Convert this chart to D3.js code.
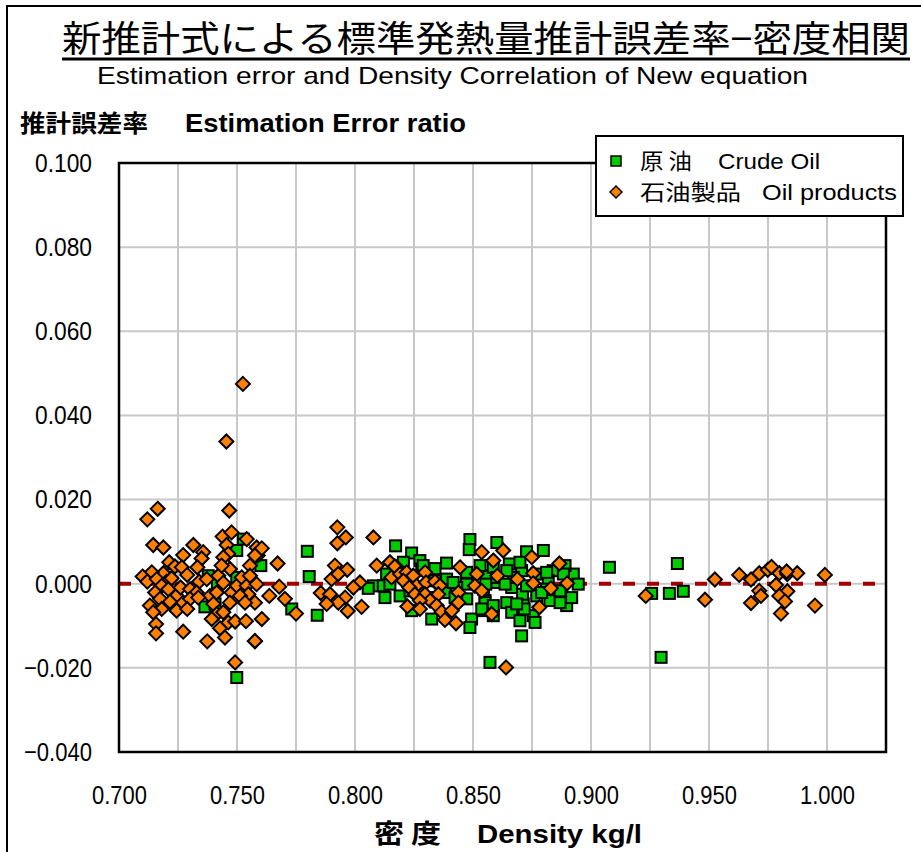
<!DOCTYPE html>
<html lang="ja">
<head>
<meta charset="UTF-8">
<title>新推計式による標準発熱量推計誤差率−密度相関</title>
<script src="https://cdn.jsdelivr.net/npm/d3@7"></script>
<style>
  body { margin: 0; background: #fff; }
  text { font-family: "Liberation Sans Narrow", "Liberation Sans", "Noto Sans CJK JP", sans-serif; fill: #000; }
  .jp { font-family: "Noto Sans CJK JP", sans-serif; }
  .grid line { stroke: #c8c8c8; stroke-width: 2px; }
  .axis text { font-size: 26px; }
</style>
</head>
<body>
<div id="chart"></div>
<script>
// [density kg/l, estimation error ratio]
const crudeOil = [
  [0.7527,0.0106],[0.7499,0.0079],[0.7378,0.0019],[0.7417,0.0002],[0.7364,-0.0055],[0.7407,-0.0048],[0.7499,-0.0223],[0.7499,0.0015],[0.7601,0.0043],
  [0.7798,0.0077],[0.7806,0.0017],[0.7732,-0.0060],[0.7840,-0.0075],
  [0.8172,0.0090],[0.8078,-0.0005],[0.8127,-0.0033],[0.8134,0.0023],[0.8056,-0.0011],[0.8120,-0.0005],
  [0.8240,0.0073],[0.8487,0.0105],[0.8484,0.0081],[0.8388,0.0049],[0.8275,0.0055],[0.8339,0.0036],[0.8191,-0.0029],[0.8240,-0.0064],[0.8325,-0.0084],
  [0.8388,0.0011],[0.8473,0.0007],[0.8473,-0.0036],[0.8494,-0.0084],[0.8487,-0.0104],[0.8544,-0.0013],[0.8551,-0.0040],[0.8572,-0.0187],
  [0.8601,0.0098],[0.8727,0.0076],[0.8798,0.0079],[0.8654,0.0047],[0.8706,0.0031],[0.8840,0.0031],[0.8925,0.0023],[0.8946,-0.0001],[0.8876,-0.0021],
  [0.8826,-0.0040],[0.8770,-0.0029],[0.8713,-0.0048],[0.8643,-0.0045],[0.8664,-0.0009],[0.8601,0.0003],[0.8551,-0.0045],[0.8755,-0.0076],[0.8763,-0.0092],
  [0.8897,-0.0052],[0.8918,-0.0033],[0.8706,-0.0124],[0.8473,-0.0001],[0.8586,-0.0076],[0.8664,-0.0068],[0.8558,0.0019],
  [0.9078,0.0039],[0.9366,0.0048],[0.9257,-0.0023],[0.9332,-0.0023],[0.9391,-0.0018],[0.9297,-0.0175],
  [0.8233,-0.0017],[0.8283,0.0035],[0.8554,-0.0001],[0.8710,-0.0025],[0.8717,-0.0060],[0.8890,0.0043],[0.8339,0.0007],[0.8275,-0.0009],[0.8325,-0.0033],
  [0.8191,0.0039],[0.8148,-0.0001],[0.8431,-0.0009],[0.8431,-0.0033],[0.8586,0.0039],[0.8601,0.0015],[0.8671,0.0015],[0.8770,0.0023],[0.8819,0.0007],
  [0.8869,-0.0017],[0.8812,-0.0013],[0.8699,-0.0088],[0.8544,-0.0064],
  [0.8473,0.0027],[0.8530,0.0043],[0.8643,0.0031],[0.8699,0.0051],[0.8812,0.0027],[0.8883,0.0023],[0.8869,-0.0045],[0.8791,-0.0021],[0.8586,-0.0052],
  [0.8685,-0.0048],[0.8537,-0.0060],[0.8727,-0.0005],[0.8636,-0.0001],
  [0.8289,0.0043],[0.8205,0.0051],[0.8381,-0.0021],[0.8424,-0.0033],[0.8416,0.0003]
];

const oilProducts = [
  [0.7164,0.0178],[0.7120,0.0153],[0.7467,0.0174],[0.7145,0.0092],[0.7188,0.0086],[0.7315,0.0092],[0.7272,0.0068],[0.7357,0.0075],[0.7350,0.0060],
  [0.7439,0.0112],[0.7477,0.0122],[0.7541,0.0106],[0.7456,0.0092],[0.7463,0.0071],[0.7442,0.0063],[0.7213,0.0051],[0.7237,0.0041],[0.7266,0.0039],
  [0.7332,0.0039],[0.7289,0.0021],[0.7188,0.0025],[0.7139,0.0027],[0.7100,0.0017],[0.7120,0.0005],[0.7160,0.0011],[0.7202,0.0005],[0.7223,0.0013],
  [0.7181,-0.0005],[0.7153,-0.0021],[0.7131,-0.0052],[0.7174,-0.0036],[0.7209,-0.0013],[0.7244,-0.0029],[0.7261,-0.0009],[0.7301,-0.0013],[0.7340,0.0005],
  [0.7329,-0.0021],[0.7272,-0.0045],[0.7301,-0.0036],[0.7244,-0.0064],[0.7289,-0.0060],[0.7181,-0.0060],[0.7145,-0.0068],[0.7157,-0.0096],[0.7157,-0.0118],
  [0.7272,-0.0114],[0.7216,-0.0043],[0.7386,-0.0029],[0.7400,-0.0048],[0.7414,-0.0072],[0.7393,-0.0084],[0.7428,-0.0106],[0.7449,-0.0128],[0.7374,-0.0137],
  [0.7463,-0.0092],[0.7492,-0.0090],[0.7538,-0.0089],[0.7576,-0.0137],[0.7492,-0.0187],[0.7421,0.0019],[0.7442,0.0002],[0.7414,-0.0021],[0.7477,-0.0021],
  [0.7499,-0.0005],[0.7520,0.0015],[0.7541,-0.0005],[0.7555,0.0043],[0.7548,-0.0025],[0.7576,-0.0045],[0.7513,-0.0029],[0.7470,-0.0045],[0.7534,-0.0045],
  [0.7555,0.0019],[0.7583,-0.0001],[0.7588,0.0067],[0.7583,0.0086],[0.7470,0.0035],[0.7435,0.0043],[0.7372,0.0011],[0.7336,-0.0033],[0.7442,-0.0068],
  [0.7525,0.0475],[0.7455,0.0338],
  [0.7605,0.0084],[0.7576,0.0067],[0.7672,0.0048],[0.7679,-0.0007],[0.7703,-0.0036],[0.7637,-0.0029],[0.7750,-0.0071],[0.7605,-0.0084],[0.7576,-0.0136],
  [0.7925,0.0134],[0.7961,0.0110],[0.7925,0.0096],[0.8078,0.0110],[0.7915,0.0043],[0.7967,0.0033],[0.7901,0.0011],[0.7929,0.0023],[0.8021,0.0003],
  [0.7993,-0.0009],[0.7855,-0.0022],[0.7894,-0.0025],[0.7958,-0.0033],[0.7929,-0.0045],[0.7880,-0.0048],[0.7969,-0.0065],[0.8028,-0.0055],
  [0.8092,0.0043],[0.8148,0.0051],[0.8177,0.0039],[0.8155,0.0015],
  [0.8169,0.0041],[0.8191,0.0023],[0.8219,0.0027],[0.8247,0.0019],[0.8297,0.0027],[0.8205,0.0007],[0.8261,-0.0005],[0.8301,0.0003],[0.8339,0.0005],
  [0.8360,-0.0005],[0.8230,-0.0009],[0.8254,-0.0025],[0.8297,-0.0025],[0.8353,-0.0025],[0.8318,-0.0040],[0.8275,-0.0040],[0.8222,-0.0054],[0.8275,-0.0060],
  [0.8346,-0.0052],[0.8367,-0.0067],[0.8410,-0.0064],[0.8381,-0.0086],[0.8428,-0.0094],[0.8438,-0.0021],[0.8438,-0.0045],[0.8445,0.0039],[0.8537,0.0075],
  [0.8516,0.0023],[0.8508,-0.0005],[0.8537,-0.0017],
  [0.8586,0.0055],[0.8628,0.0079],[0.8603,0.0019],[0.8688,0.0011],[0.8749,0.0063],[0.8755,0.0025],[0.8755,0.0001],[0.8866,0.0048],[0.8830,-0.0011],
  [0.8899,0.0001],[0.8781,-0.0056],[0.8579,-0.0072],[0.8640,-0.0199],
  [0.9232,-0.0029],[0.9525,0.0010],[0.9483,-0.0038],[0.9628,0.0021],[0.9678,0.0010],[0.9713,0.0025],[0.9749,0.0033],[0.9765,0.0040],[0.9798,0.0025],
  [0.9832,0.0023],[0.9874,0.0025],[0.9991,0.0021],[0.9784,-0.0003],[0.9713,-0.0017],[0.9720,-0.0029],[0.9832,-0.0018],[0.9798,-0.0029],[0.9822,-0.0042],
  [0.9678,-0.0046],[0.9805,-0.0071],[0.9949,-0.0052],[0.9829,0.0029]
];

const xTicks = [0.70, 0.75, 0.80, 0.85, 0.90, 0.95, 1.00];
const yTicks = [0.10, 0.08, 0.06, 0.04, 0.02, 0, -0.02, -0.04];
const seriesJp = ["原 油", "石油製品"];
const seriesEn = ["Crude Oil", "Oil products"];

const width = 921, height = 852;
const plot = {left: 119, right: 886, top: 163, bottom: 752};

const svg = d3.select("#chart").append("svg")
  .attr("width", width)
  .attr("height", height);

// outer frame (cut off at right and bottom)
svg.append("rect")
  .attr("x", 7).attr("y", 6)
  .attr("width", 1000).attr("height", 1000)
  .attr("fill", "none").attr("stroke", "#000").attr("stroke-width", 2);

const x = d3.scaleLinear().domain([0.7, 1.025]).range([plot.left, plot.right]);
const y = d3.scaleLinear().domain([-0.04, 0.1]).range([plot.bottom, plot.top]);

// grid
const grid = svg.append("g").attr("class", "grid");
grid.selectAll(".gx")
  .data(d3.range(1, 13).map(i => 0.7 + i * 0.025))
  .join("line")
  .attr("x1", d => x(d)).attr("x2", d => x(d))
  .attr("y1", plot.top).attr("y2", plot.bottom);
grid.selectAll(".gy")
  .data(yTicks.slice(1, -1))
  .join("line")
  .attr("x1", plot.left).attr("x2", plot.right)
  .attr("y1", d => y(d)).attr("y2", d => y(d));

// axes
const fmt = d3.format(".3f");
const yAxis = svg.append("g")
  .attr("class", "axis")
  .attr("transform", `translate(${plot.left},0)`)
  .call(d3.axisLeft(y).tickValues(yTicks).tickFormat(fmt).tickSize(0).tickPadding(27));
yAxis.select(".domain").remove();
yAxis.selectAll("text")
  .attr("fill", "#000")
  .attr("font-size", 26)
  .attr("textLength", d => d < 0 ? 68 : 57)
  .attr("lengthAdjust", "spacingAndGlyphs");

const xAxis = svg.append("g")
  .attr("class", "axis")
  .attr("transform", `translate(0,${plot.bottom})`)
  .call(d3.axisBottom(x).tickValues(xTicks).tickFormat(fmt).tickSize(0).tickPadding(34));
xAxis.select(".domain").remove();
xAxis.selectAll("text")
  .attr("fill", "#000")
  .attr("font-size", 26)
  .attr("textLength", 55)
  .attr("lengthAdjust", "spacingAndGlyphs");

// zero reference line
svg.append("line")
  .attr("x1", plot.left).attr("x2", plot.right)
  .attr("y1", y(0)).attr("y2", y(0))
  .attr("stroke", "#a00000")
  .attr("stroke-width", 4)
  .attr("stroke-dasharray", "12,12");

// plot border
svg.append("rect")
  .attr("x", plot.left).attr("y", plot.top)
  .attr("width", plot.right - plot.left).attr("height", plot.bottom - plot.top)
  .attr("fill", "none").attr("stroke", "#000").attr("stroke-width", 2.5);

// points
const green = "#00cc00", orange = "#ff8000";
const sq = 11, dg = 7;
const diamond = r => `M0,${-r}L${r},0L0,${r}L${-r},0Z`;

svg.append("g").selectAll("rect")
  .data(crudeOil)
  .join("rect")
  .attr("x", d => x(d[0]) - sq / 2)
  .attr("y", d => y(d[1]) - sq / 2)
  .attr("width", sq).attr("height", sq)
  .attr("fill", green).attr("stroke", "#000").attr("stroke-width", 2);

svg.append("g").selectAll("path")
  .data(oilProducts)
  .join("path")
  .attr("transform", d => `translate(${x(d[0])},${y(d[1])})`)
  .attr("d", diamond(dg))
  .attr("fill", orange).attr("stroke", "#000").attr("stroke-width", 2);

// titles
svg.append("text")
  .attr("class", "jp")
  .attr("x", 62).attr("y", 52)
  .attr("font-size", 36)
  .attr("textLength", 848).attr("lengthAdjust", "spacingAndGlyphs")
  .text("新推計式による標準発熱量推計誤差率−密度相関");
svg.append("line")
  .attr("x1", 62).attr("x2", 910).attr("y1", 59).attr("y2", 59)
  .attr("stroke", "#000").attr("stroke-width", 3);

svg.append("text")
  .attr("x", 97).attr("y", 84)
  .attr("font-size", 24)
  .attr("textLength", 711).attr("lengthAdjust", "spacingAndGlyphs")
  .text("Estimation error and Density Correlation of New equation");

// y axis title
svg.append("text")
  .attr("class", "jp")
  .attr("x", 20).attr("y", 132)
  .attr("font-size", 24).attr("font-weight", "bold")
  .attr("textLength", 128).attr("lengthAdjust", "spacingAndGlyphs")
  .text("推計誤差率");
svg.append("text")
  .attr("x", 185).attr("y", 132)
  .attr("font-size", 26).attr("font-weight", "bold")
  .attr("textLength", 281).attr("lengthAdjust", "spacingAndGlyphs")
  .text("Estimation Error ratio");

// x axis title
svg.append("text")
  .attr("class", "jp")
  .attr("x", 374).attr("y", 843)
  .attr("font-size", 26).attr("font-weight", "bold")
  .attr("textLength", 67).attr("lengthAdjust", "spacingAndGlyphs")
  .text("密 度");
svg.append("text")
  .attr("x", 477).attr("y", 843)
  .attr("font-size", 26).attr("font-weight", "bold")
  .attr("textLength", 165).attr("lengthAdjust", "spacingAndGlyphs")
  .text("Density  kg/l");

// legend
const legend = svg.append("g");
legend.append("rect")
  .attr("x", 596).attr("y", 136).attr("width", 307).attr("height", 80)
  .attr("fill", "#fff").attr("stroke", "#000").attr("stroke-width", 2);

const legendRows = [
  {jp: seriesJp[0], en: seriesEn[0], yy: 161, jpLen: 52, enX: 718, enLen: 102},
  {jp: seriesJp[1], en: seriesEn[1], yy: 192, jpLen: 101, enX: 762, enLen: 135}
];
legend.append("rect")
  .attr("x", 611).attr("y", legendRows[0].yy - 5)
  .attr("width", 10).attr("height", 10)
  .attr("fill", green).attr("stroke", "#000").attr("stroke-width", 1.5);
legend.append("path")
  .attr("transform", `translate(616,${legendRows[1].yy})`)
  .attr("d", diamond(6))
  .attr("fill", orange).attr("stroke", "#000").attr("stroke-width", 1.5);

legendRows.forEach(r => {
  legend.append("text")
    .attr("class", "jp")
    .attr("x", 640).attr("y", r.yy + 8)
    .attr("font-size", 22)
    .attr("textLength", r.jpLen).attr("lengthAdjust", "spacingAndGlyphs")
    .text(r.jp);
  legend.append("text")
    .attr("x", r.enX).attr("y", r.yy + 8)
    .attr("font-size", 22)
    .attr("textLength", r.enLen).attr("lengthAdjust", "spacingAndGlyphs")
    .text(r.en);
});
</script>
</body>
</html>
